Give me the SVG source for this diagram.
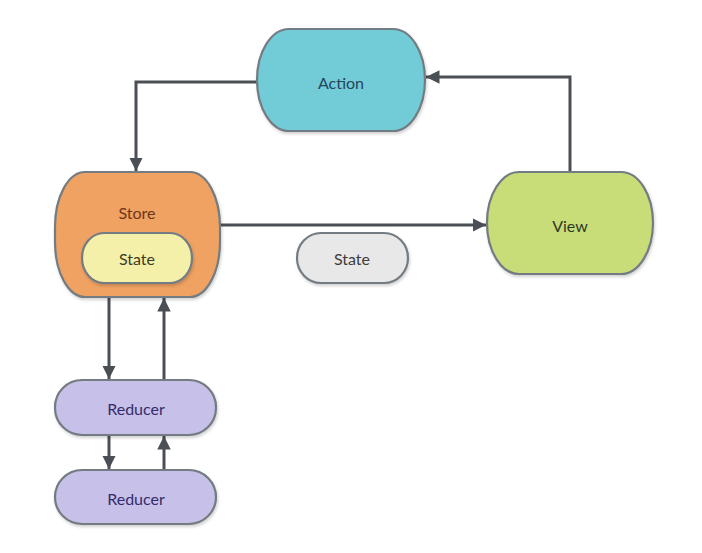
<svg xmlns="http://www.w3.org/2000/svg" width="702" height="553" viewBox="0 0 702 553">
<defs>
<marker id="ah" viewBox="0 0 10 10" refX="10" refY="5" markerWidth="4.5" markerHeight="4.5" markerUnits="strokeWidth" orient="auto">
<path d="M0,0 L10,5 L0,10 Z" fill="#4a4f56"/>
</marker>
<filter id="sh" x="-10%" y="-10%" width="125%" height="130%">
<feDropShadow dx="1" dy="2" stdDeviation="1.5" flood-color="#000" flood-opacity="0.18"/>
</filter>
</defs>
<style>
.n{stroke:#737b82;stroke-width:2.2;filter:url(#sh)}
.t{font-family:Lato,"Open Sans","Liberation Sans",sans-serif;font-size:16px;text-anchor:middle;dominant-baseline:central}
.c{fill:none;stroke:#4a4f56;stroke-width:3;marker-end:url(#ah)}
</style>
<rect width="702" height="553" fill="#ffffff"/>
<g id="connectors">
<path class="c" d="M257,82 H136 V171"/>
<path class="c" d="M570,172 V77 H426"/>
<path class="c" d="M221,225 H486"/>
<path class="c" d="M109,298 V379"/>
<path class="c" d="M164,380 V298"/>
<path class="c" d="M109,436 V469"/>
<path class="c" d="M164,470 V436"/>
</g>
<g id="action">
<rect class="n" x="257" y="29" width="168" height="102" rx="32" ry="51" fill="#72CCD8"/>
<text class="t" x="341" y="82" fill="#24465a">Action</text>
</g>
<g id="store">
<rect class="n" x="55" y="172" width="165" height="125" rx="30" ry="55" fill="#F0A263"/>
<text class="t" x="137" y="212" fill="#6e3518">Store</text>
</g>
<g id="store-state">
<rect class="n" x="82" y="233" width="110" height="50" rx="22" ry="25" fill="#F4F0AA"/>
<text class="t" x="137" y="258" fill="#3e3d24">State</text>
</g>
<g id="view">
<rect class="n" x="487" y="172" width="166" height="102" rx="32" ry="51" fill="#C8DD78"/>
<text class="t" x="570" y="225" fill="#2f3a24">View</text>
</g>
<g id="state">
<rect class="n" x="297" y="233" width="111" height="50" rx="24" ry="25" fill="#E8E8E8"/>
<text class="t" x="352" y="258" fill="#3d3d3d">State</text>
</g>
<g id="reducer1">
<rect class="n" x="55" y="380" width="161" height="55" rx="27" ry="27" fill="#C7C0E8"/>
<text class="t" x="136" y="408" fill="#352b6a">Reducer</text>
</g>
<g id="reducer2">
<rect class="n" x="55" y="470" width="161" height="54" rx="27" ry="27" fill="#C7C0E8"/>
<text class="t" x="136" y="498" fill="#352b6a">Reducer</text>
</g>
</svg>
